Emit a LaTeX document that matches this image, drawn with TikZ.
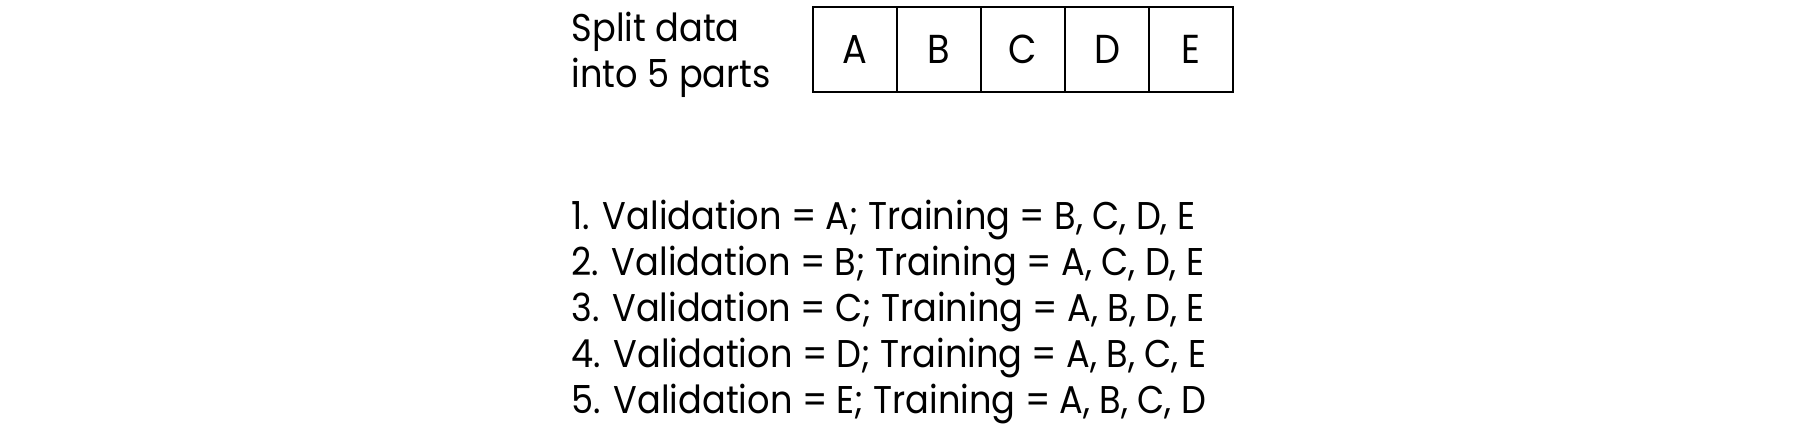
\documentclass[tikz,border=0pt]{standalone}
\usepackage{fontspec}
\setmainfont{Poppins}[FakeStretch=0.91]
\usepackage{tikz}
\usetikzlibrary{positioning}
\tikzset{
  part/.style={draw, line width=0.5pt, minimum width=0.84cm, minimum height=0.85cm,
               inner sep=0pt, outer sep=0pt, font=\fontsize{11.5}{13}\selectfont},
  lbl/.style={anchor=west, align=left, inner sep=0pt,
              font=\fontsize{11}{13}\selectfont},
  fold/.style={anchor=base west, inner sep=0pt, font=\fontsize{11}{13}\selectfont},
}
\begin{document}
\begin{tikzpicture}
    \useasboundingbox (0,0) rectangle (18,4.3);
    \node[lbl] (split) at (5.71,3.75) {Split data\\into 5 parts};
    \node[part] (a) at (8.55,3.805) {A};
    \node[part, right=0pt of a] (b) {B};
    \node[part, right=0pt of b] (c) {C};
    \node[part, right=0pt of c] (d) {D};
    \node[part, right=0pt of d] (e) {E};
    \node[fold] (f1) at (5.71,2.0) {1. Validation = A; Training = B, C, D, E};
    \node[fold] (f2) at (5.71,1.54) {2. Validation = B; Training = A, C, D, E};
    \node[fold] (f3) at (5.71,1.08) {3. Validation = C; Training = A, B, D, E};
    \node[fold] (f4) at (5.71,0.62) {4. Validation = D; Training = A, B, C, E};
    \node[fold] (f5) at (5.71,0.16) {5. Validation = E; Training = A, B, C, D};
\end{tikzpicture}
\end{document}
